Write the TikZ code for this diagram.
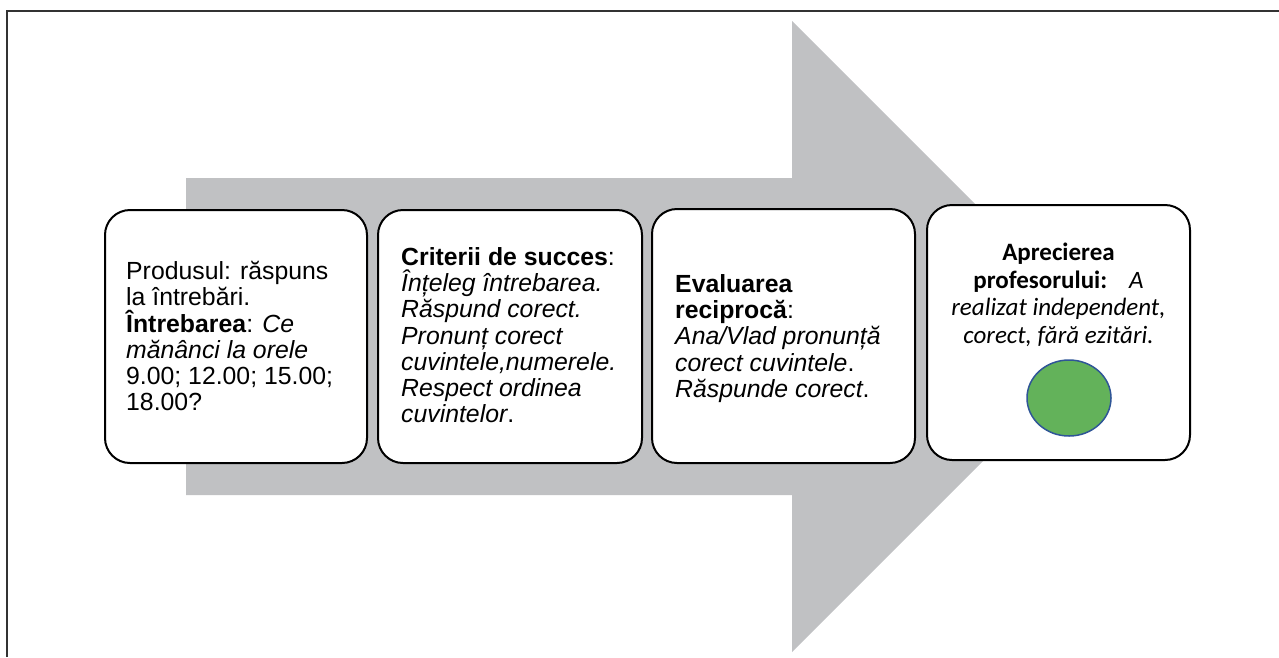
\documentclass[tikz,border=0pt]{standalone}
\usepackage{fontspec}
\setmainfont{Liberation Sans}
\newfontfamily\calib{Carlito}
\usetikzlibrary{shapes.geometric}
\definecolor{arrowgray}{RGB}{192,193,195}
\definecolor{dotgreen}{RGB}{99,178,90}
\definecolor{dotblue}{RGB}{47,85,151}
\definecolor{framegray}{RGB}{51,51,51}
\begin{document}
\begin{tikzpicture}[x=1pt,y=-1pt,
  card/.style={draw=black, line width=2pt, fill=white, rounded corners=25pt,
    minimum width=#1, minimum height=253pt, inner sep=0pt},
  cardtext/.style={anchor=north west, inner sep=0pt, align=left,
    font=\fontsize{24.8}{26.3}\selectfont},
  calibtext/.style={anchor=north, inner sep=0pt, align=center,
    font=\calib\fontsize{25}{27.5}\selectfont},
  dotstyle/.style={ellipse, draw=dotblue, line width=1.5pt, fill=dotgreen,
    minimum width=84pt, minimum height=76pt, inner sep=0pt}]
\useasboundingbox (0,0) rectangle (1279,657);
\fill[white] (0,0) rectangle (1279,657);
% frame
\coordinate (fa) at (7,657);
\coordinate (fb) at (7,11);
\coordinate (fc) at (1279,11);
\draw[framegray, line width=1.2pt] (fa) -- (fb) -- (fc);
% big arrow
\fill[arrowgray] (186,178) -- (792,178) -- (792,21) -- (1107.5,336.5)
  -- (792,652) -- (792,495) -- (186,495) -- cycle;
% cards
\node[card=262pt] (b1) at (236,336.5) {};
\node[card=264pt] (b2) at (510,336.5) {};
\node[card=263pt, minimum height=254pt] (b3) at (783.5,336) {};
\node[card=263pt, minimum height=255pt] (b4) at (1058.5,332.5) {};
% texts
\node[cardtext] (t1) at (126,261) {Produsul: răspuns\\la întrebări.\\\textbf{Întrebarea}: \textit{Ce}\\\textit{mănânci la orele}\\9.00; 12.00; 15.00;\\18.00?};
\node[cardtext] (t2) at (401,247) {\textbf{Criterii de succes}:\\\textit{Înțeleg întrebarea.}\\\textit{Răspund corect.}\\\textit{Pronunț corect}\\\textit{cuvintele,numerele.}\\\textit{Respect ordinea}\\\textit{cuvintelor}.};
\node[cardtext] (t3) at (675,274) {\textbf{Evaluarea}\\\textbf{reciprocă}:\\\textit{Ana/Vlad pronunță}\\\textit{corect cuvintele}.\\\textit{Răspunde corect}.};
\node[calibtext] (t4) at (1058.5,243) {\textbf{Aprecierea}\\\textbf{profesorului:}\hspace{22pt}\textit{A}\\\textit{realizat independent,}\\\textit{corect, fără ezitări.}};
\node[dotstyle] (dot) at (1069,398) {};
\end{tikzpicture}
\end{document}
